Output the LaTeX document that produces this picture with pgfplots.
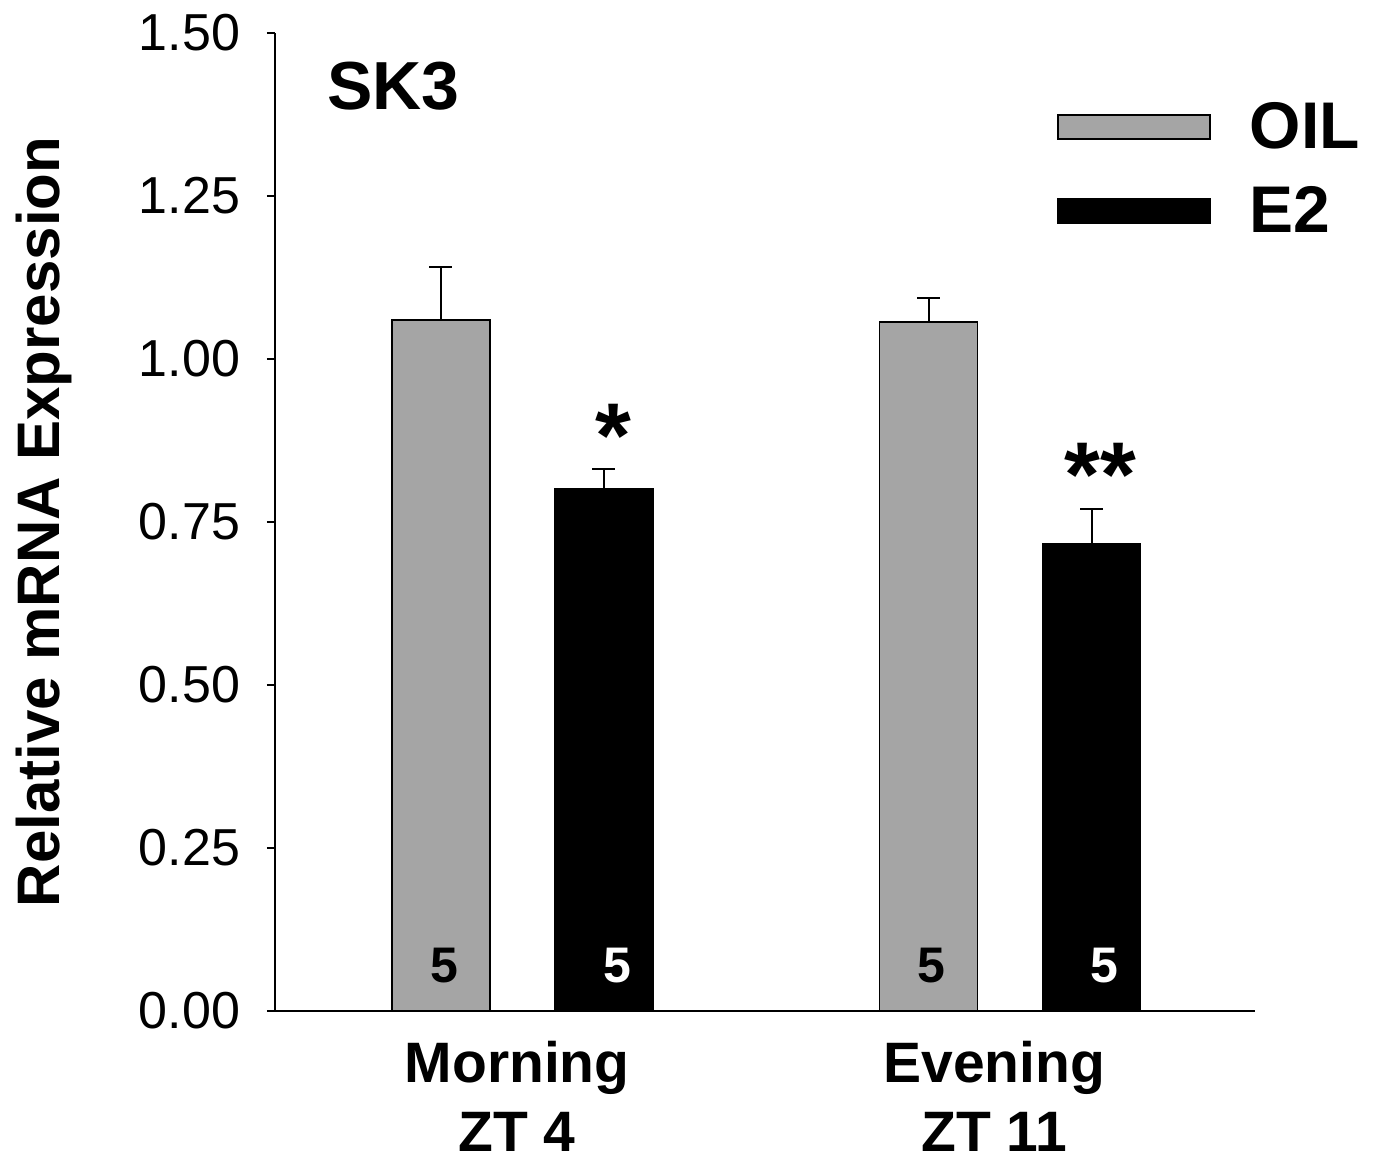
\documentclass[border=0pt]{standalone}
\usepackage{fontspec}
\setmainfont{Liberation Sans}
\usepackage{pgfplots}
\pgfplotsset{compat=1.18}
\definecolor{oilgray}{RGB}{165,165,165}

\begin{document}
\begin{tikzpicture}
\useasboundingbox (0,0) rectangle (686.5pt,580.5pt);
\begin{axis}[
  at={(137.5pt,75pt)}, anchor=south west,
  scale only axis, width=490pt, height=489pt,
  xmin=-0.5074, xmax=1.5018,
  ymin=0, ymax=1.5,
  axis x line=bottom, axis y line=left,
  axis line style={-, line width=1.3pt, black},
  xtick={-0.011,0.967},
  xticklabels={Morning\\ZT 4, Evening\\ZT 11},
  xticklabel style={align=center, font=\bfseries\fontsize{28.5}{34.5}\selectfont, anchor=north, inner sep=0pt, yshift=-11pt},
  x tick style={draw=none},
  ytick={0,0.25,0.5,0.75,1,1.25,1.5},
  yticklabel style={/pgf/number format/fixed, /pgf/number format/fixed zerofill, /pgf/number format/precision=2, /pgf/number format/assume math mode=true, font=\fontsize{26}{30}\selectfont, xshift=-10pt},
  y tick style={line width=1.2pt, black},
  tick align=outside,
  major tick length=4pt,
  ylabel={Relative mRNA Expression},
  ylabel style={at={(axis description cs:-0.2194,0.5)}, anchor=base, font=\bfseries\fontsize{30}{36}\selectfont},
  legend style={at={(axis description cs:0.798,0.9305)}, anchor=north west, draw=none, fill=none, inner sep=0pt, row sep=18.4pt, font=\bfseries\fontsize{33}{36}\selectfont, nodes={inner sep=0pt, text height=23.6pt, text depth=0pt}, /tikz/every odd column/.style={column sep=19.5pt}},
  legend cell align=left,
  clip=false,
]
\addplot[ybar, bar width=0.2009, bar shift=0pt, fill=oilgray, draw=black, line width=0.75pt,
  legend image code/.code={\draw[fill=oilgray, draw=black, line width=0.75pt] (0pt,-7pt) rectangle (76pt,5pt);},
  error bars/.cd, y dir=plus, y explicit,
  error bar style={line width=1pt, black},
  error mark options={rotate=90, line width=1pt, mark size=5.75pt, black}]
  coordinates {(-0.1671,1.060) +- (0,0.081) (0.8329,1.057) +- (0,0.037)};
\addlegendentry{OIL}
\addplot[ybar, bar width=0.2009, bar shift=0pt, fill=black, draw=black, line width=0.75pt,
  legend image code/.code={\draw[fill=black, draw=black, line width=0.75pt] (0pt,-7pt) rectangle (76pt,5pt);},
  error bars/.cd, y dir=plus, y explicit,
  error bar style={line width=1pt, black},
  error mark options={rotate=90, line width=1pt, mark size=5.75pt, black}]
  coordinates {(0.1671,0.801) +- (0,0.030) (1.1671,0.716) +- (0,0.054)};
\addlegendentry{E2}
% sample sizes
\addplot[ybar, bar width=0.2009, bar shift=0pt, draw=none, fill=none, forget plot,
  point meta=explicit symbolic, nodes near coords,
  nodes near coords style={anchor=base, yshift=14pt, xshift=1.5pt, inner sep=0pt, text=black, font=\bfseries\fontsize{25}{30}\selectfont}]
  coordinates {(-0.1671,0) [5] (0.8329,0) [5]};
\addplot[ybar, bar width=0.2009, bar shift=0pt, draw=none, fill=none, forget plot,
  point meta=explicit symbolic, nodes near coords,
  nodes near coords style={anchor=base, yshift=14pt, xshift=6.5pt, inner sep=0pt, text=white, font=\bfseries\fontsize{25}{30}\selectfont}]
  coordinates {(0.1671,0) [5] (1.1671,0) [5]};
% significance
\addplot[ybar, bar width=0.2009, bar shift=0pt, draw=none, fill=none, forget plot,
  point meta=explicit symbolic, nodes near coords,
  nodes near coords style={anchor=base, yshift=1pt, xshift=4.5pt, inner sep=0pt, text=black, font=\bfseries\fontsize{46}{50}\selectfont}]
  coordinates {(0.1671,0.831) [*] (1.1671,0.770) [**]};
\node[anchor=base west, inner sep=0pt, font=\bfseries\fontsize{34}{40}\selectfont] at (axis description cs:0.053,0.922) {SK3};
\end{axis}
\end{tikzpicture}
\end{document}
